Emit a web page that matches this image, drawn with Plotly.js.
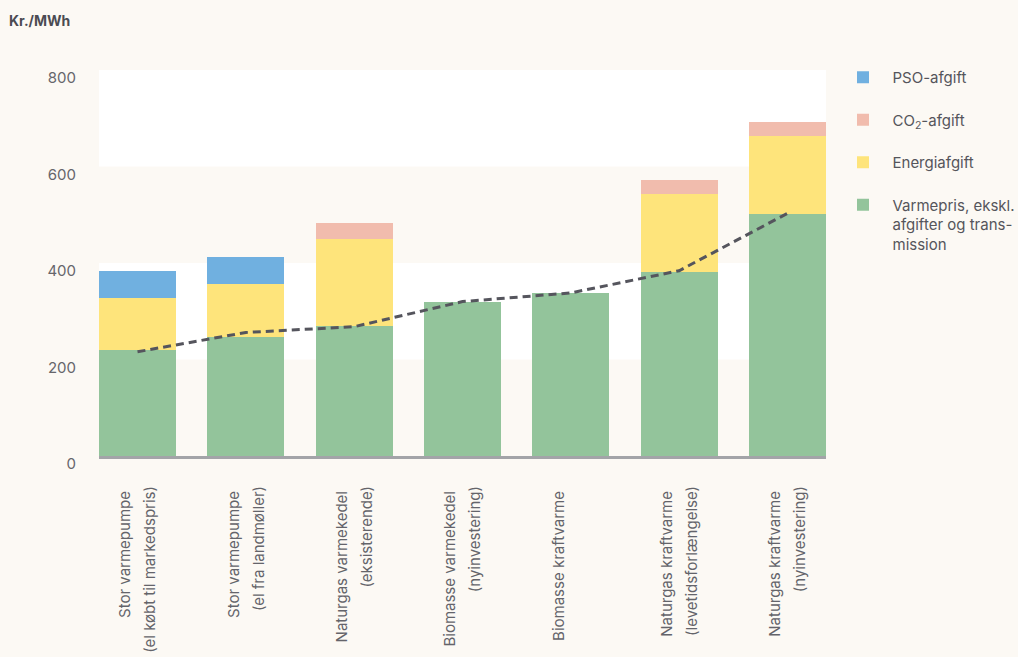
<!DOCTYPE html>
<html>
<head>
<meta charset="utf-8">
<script src="https://cdn.plot.ly/plotly-3.0.1.min.js"></script>
<style>
  html, body { margin: 0; padding: 0; background: #fcf9f4; }
  #chart { width: 1018px; height: 657px; }
</style>
</head>
<body>
<div id="chart"></div>
<script>
// ---- Data ----
const categories = [
  "Stor varmepumpe (el købt til markedspris)",
  "Stor varmepumpe (el fra landmøller)",
  "Naturgas varmekedel (eksisterende)",
  "Biomasse varmekedel (nyinvestering)",
  "Biomasse kraftvarme",
  "Naturgas kraftvarme (levetidsforlængelse)",
  "Naturgas kraftvarme (nyinvestering)"
];
const tickLine1 = [
  "Stor varmepumpe",
  "Stor varmepumpe",
  "Naturgas varmekedel",
  "Biomasse varmekedel",
  "Biomasse kraftvarme",
  "Naturgas kraftvarme",
  "Naturgas kraftvarme"
];
const tickLine2 = [
  "(el købt til markedspris)",
  "(el fra landmøller)",
  "(eksisterende)",
  "(nyinvestering)",
  "",
  "(levetidsforlængelse)",
  "(nyinvestering)"
];
const varmepris    = [220, 247, 269, 319, 338, 381, 502];
const energiafgift = [107, 110, 181, 0, 0, 162, 161];
const co2afgift    = [0, 0, 33, 0, 0, 29, 29];
const psoafgift    = [56, 56, 0, 0, 0, 0, 0];
const linjeVaerdi  = [216, 256, 268, 320, 338, 384, 503];
const yTicks = [0, 200, 400, 600, 800];

const seriesNames = {
  varme: "Varmepris, ekskl.<br>afgifter og trans-<br>mission",
  energi: "Energiafgift",
  co2: "CO<sub>2</sub>-afgift",
  pso: "PSO-afgift"
};

// second-line labels only where a second line exists
const line2Vals = categories.filter((c, i) => tickLine2[i] !== "");
const line2Text = tickLine2.filter(t => t !== "");

// ---- Styles ----
const bg = "#fcf9f4";
const textCol = "#5d5d63";
const fontFam = "Inter, 'Noto Sans', sans-serif";

function barTrace(name, vals, color, grp, rank) {
  return {
    type: "bar", name: name, x: categories, y: vals,
    marker: { color: color, line: { width: 0 } },
    legendgroup: grp, legendrank: rank, hoverinfo: "x+y+name"
  };
}

const traces = [
  barTrace(seriesNames.varme, varmepris, "#93c49b", "g1", 4),
  barTrace(seriesNames.energi, energiafgift, "#fee47b", "g2", 3),
  barTrace(seriesNames.co2, co2afgift, "#f1bcad", "g3", 2),
  barTrace(seriesNames.pso, psoafgift, "#70b0e0", "g4", 1),
  {
    type: "scatter", mode: "lines", x: categories, y: linjeVaerdi,
    line: { color: "#55555d", width: 3, dash: "8px,5px" },
    showlegend: false, hoverinfo: "x+y"
  },
  // invisible carrier so the second-line label axis is drawn
  {
    type: "scatter", mode: "markers", x: categories, y: linjeVaerdi,
    xaxis: "x2", yaxis: "y", marker: { opacity: 0, size: 1 },
    showlegend: false, hoverinfo: "skip"
  }
];

const W = 1018, H = 657;
const xr = [-0.3555, 6.3555];
const tickFontX = { family: fontFam, size: 15, color: "#64646a" };
const layout = {
  width: W, height: H,
  paper_bgcolor: bg, plot_bgcolor: bg,
  margin: { l: 99, r: 192, t: 70, b: 201, autoexpand: false },
  barmode: "stack", bargap: 0.289,
  font: { family: fontFam, color: textCol, size: 14 },
  title: {
    text: "<b>Kr./MWh</b>", xref: "container", yref: "container",
    x: 9 / W, xanchor: "left", y: 1 - 21 / H, yanchor: "middle",
    font: { family: fontFam, size: 14, color: "#4b4b52" }
  },
  xaxis: {
    type: "category", range: xr,
    tickmode: "array", tickvals: categories, ticktext: tickLine1,
    tickangle: -90, ticks: "", showgrid: false, zeroline: false,
    showline: true, linecolor: "#a3a4a8", linewidth: 3,
    ticklabelstandoff: 26, ticklabelshift: -12,
    tickfont: tickFontX
  },
  xaxis2: {
    type: "category", overlaying: "x", anchor: "y", side: "bottom", range: xr,
    tickmode: "array", tickvals: line2Vals, ticktext: line2Text,
    tickangle: -90, ticks: "", showgrid: false, zeroline: false, showline: false,
    ticklabelstandoff: 26, ticklabelshift: 13,
    tickfont: tickFontX
  },
  yaxis: {
    range: [0, 800], tickmode: "array", tickvals: yTicks,
    ticks: "", showgrid: false, zeroline: false, showline: false,
    ticklabelstandoff: 22, ticklabelshift: 8,
    tickfont: { family: fontFam, size: 15, color: "#66666b" }
  },
  shapes: [
    { type: "rect", xref: "x domain", yref: "y", x0: 0, x1: 1, y0: 200, y1: 400,
      fillcolor: "#ffffff", line: { width: 0 }, layer: "below" },
    { type: "rect", xref: "x domain", yref: "y", x0: 0, x1: 1, y0: 600, y1: 800,
      fillcolor: "#ffffff", line: { width: 0 }, layer: "below" }
  ],
  legend: {
    xref: "container", yref: "container",
    x: 833.5 / W, xanchor: "left", y: 1 - 61 / H, yanchor: "top",
    traceorder: "grouped", tracegroupgap: 20, itemwidth: 49,
    valign: "top", bgcolor: "rgba(0,0,0,0)",
    font: { family: fontFam, size: 15, color: "#55555b" }
  },
  showlegend: true
};

Plotly.newPlot("chart", traces, layout, { displayModeBar: false, staticPlot: true });
</script>
</body>
</html>
